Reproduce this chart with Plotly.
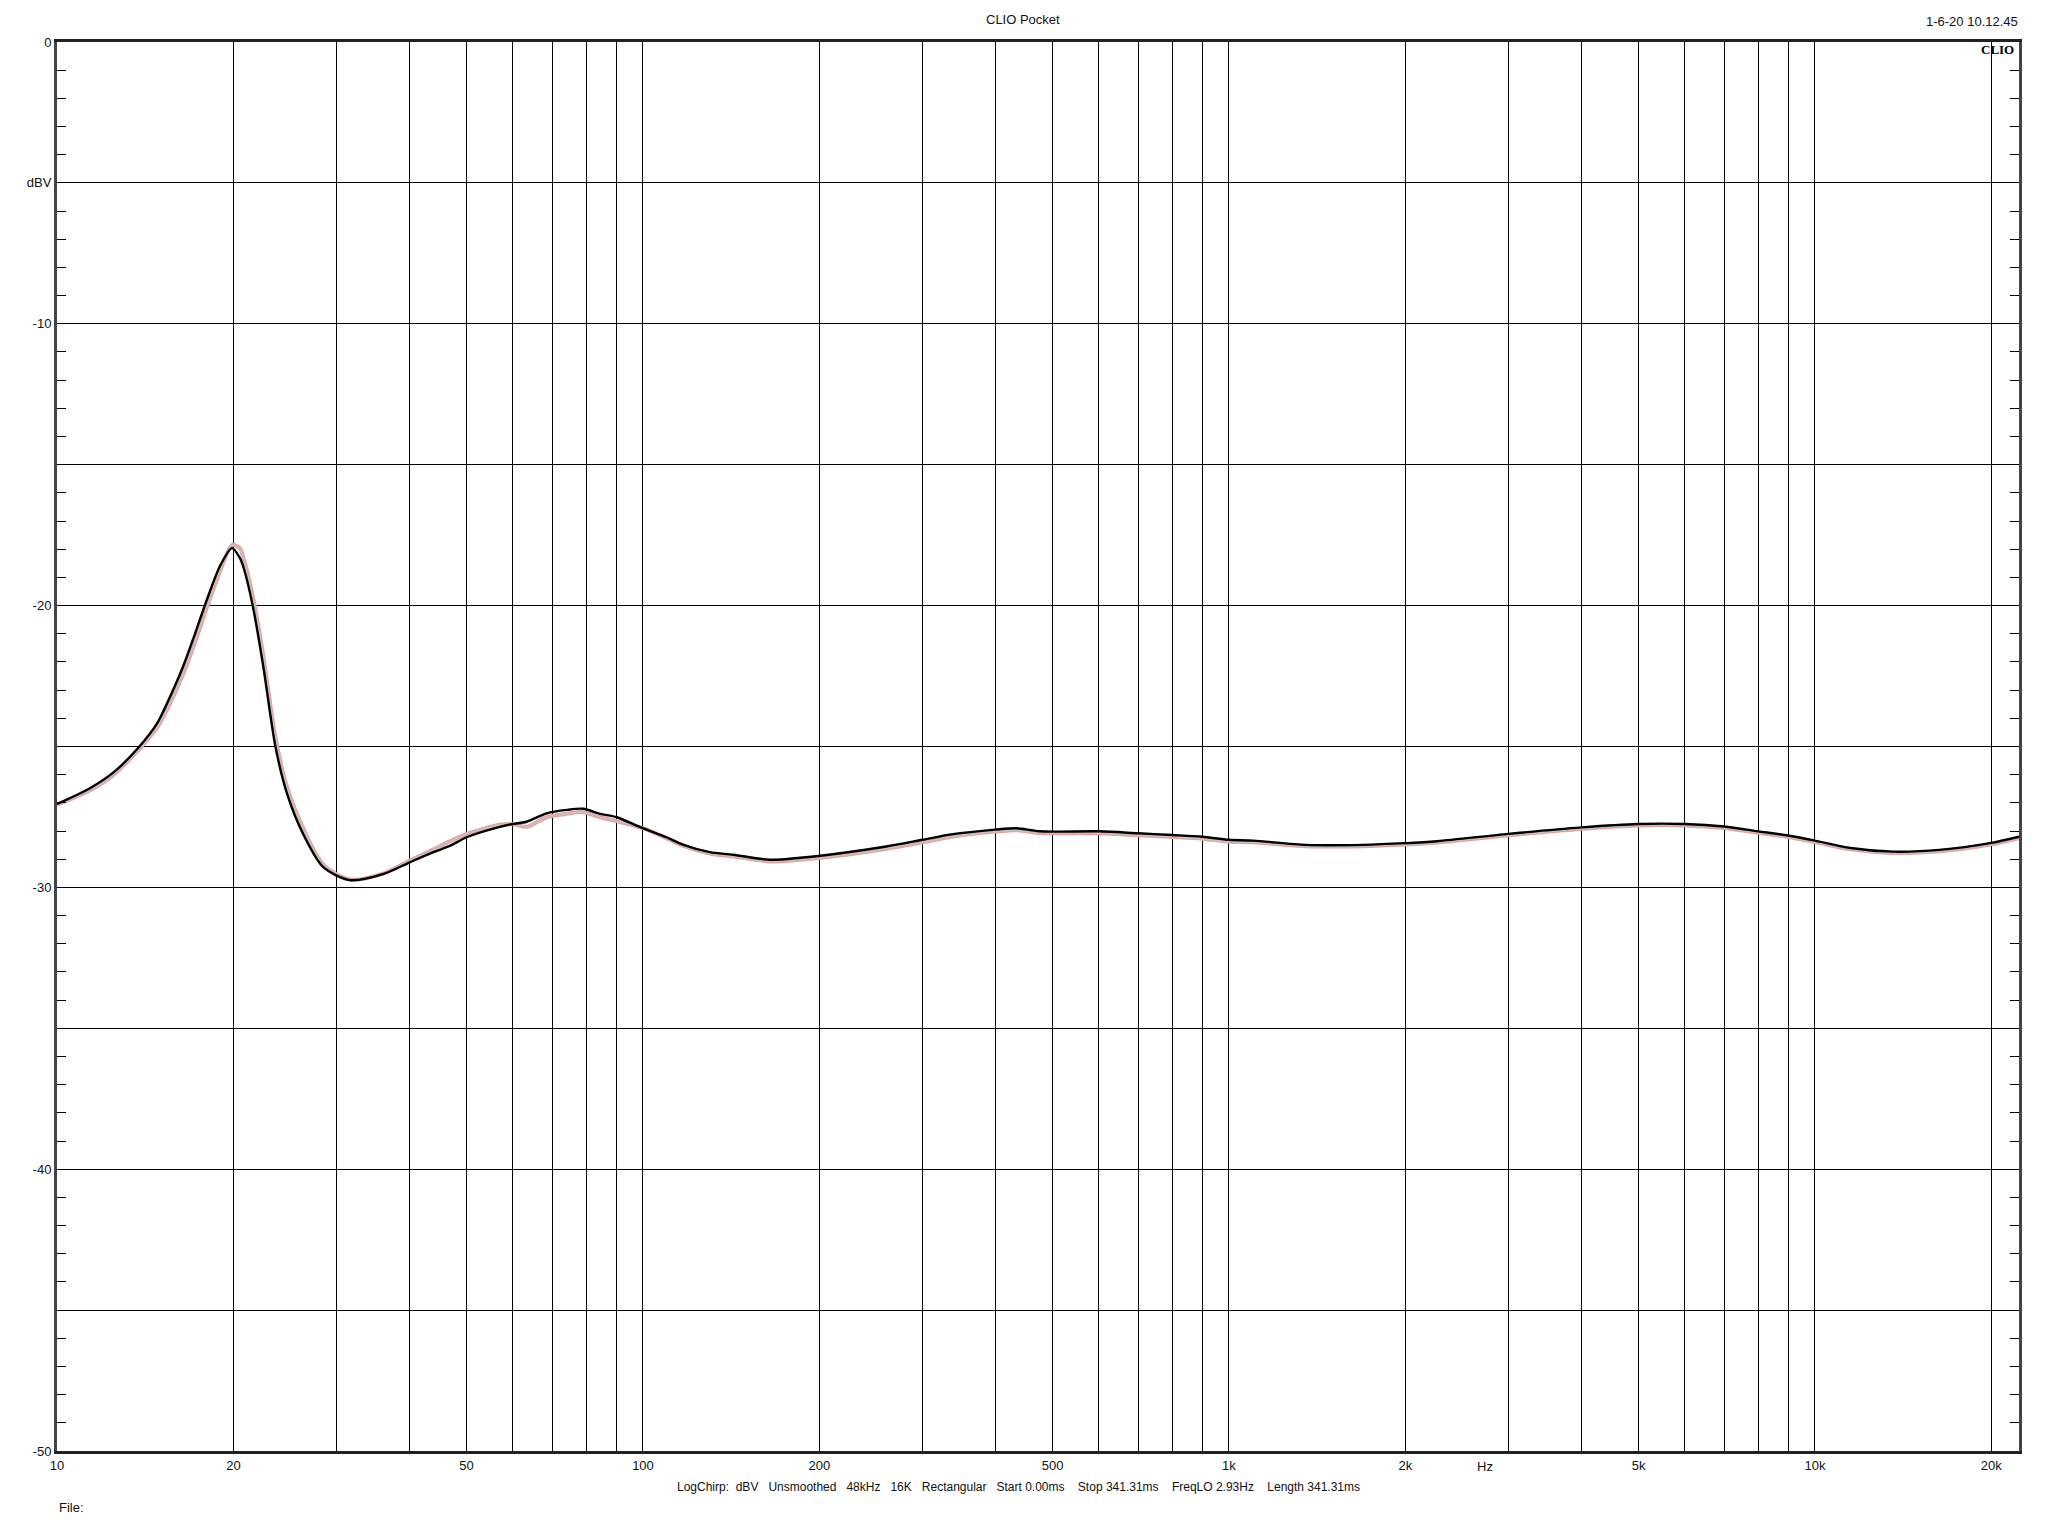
import math
import plotly.graph_objects as go

# ---- data ----
freq = [10, 11.4, 12.5, 13.8, 14.8, 15.4, 16.4, 17.2, 18.0, 19.0, 19.9, 20.5, 20.8, 21.6, 22.5,
        23.6, 24.7, 26.3, 28.5, 31.6, 36.1, 40.0, 43.9, 46.9, 50, 57, 60, 63.3, 68.5, 74.1,
        79.1, 84.5, 90.2, 99.7, 109.7, 117, 130, 142.6, 164.7, 185.4, 217, 260, 300, 336,
        399, 434, 475, 600, 700, 800, 900, 1000, 1100, 1358, 1690, 2000, 2266, 3000, 4000,
        5000, 6000, 7000, 8000, 9000, 10000, 11500, 13600, 16300, 20000, 22300]
black_db = [-27.04, -26.47, -25.91, -25.02, -24.2, -23.48, -22.18, -21.0, -19.82, -18.57, -17.96,
            -18.3, -18.63, -20.05, -22.18, -25.02, -26.68, -28.1, -29.29, -29.74, -29.52, -29.11,
            -28.75, -28.52, -28.22, -27.85, -27.75, -27.67, -27.37, -27.25, -27.21, -27.39, -27.51,
            -27.89, -28.22, -28.48, -28.75, -28.84, -29.02, -28.95, -28.79, -28.55, -28.31, -28.12,
            -27.95, -27.9, -28.01, -28.01, -28.08, -28.14, -28.2, -28.31, -28.34, -28.49, -28.49,
            -28.43, -28.36, -28.1, -27.87, -27.75, -27.75, -27.84, -28.01, -28.16, -28.34, -28.6,
            -28.73, -28.67, -28.42, -28.2]
pink_db = [-27.06, -26.55, -26.0, -25.1, -24.35, -23.7, -22.45, -21.3, -20.1, -18.75, -17.85,
           -17.95, -18.3, -19.7, -21.8, -24.7, -26.45, -27.9, -29.2, -29.72, -29.5, -29.05,
           -28.65, -28.36, -28.1, -27.78, -27.75, -27.85, -27.51, -27.39, -27.33, -27.51, -27.65,
           -27.89, -28.25, -28.52, -28.8, -28.9, -29.08, -29.02, -28.87, -28.63, -28.4, -28.2,
           -28.02, -27.97, -28.07, -28.08, -28.15, -28.21, -28.27, -28.38, -28.4, -28.54, -28.54,
           -28.48, -28.41, -28.15, -27.92, -27.8, -27.8, -27.89, -28.06, -28.21, -28.39, -28.65,
           -28.78, -28.72, -28.47, -28.25]

grid_freqs = [10, 20, 30, 40, 50, 60, 70, 80, 90, 100, 200, 300, 400, 500, 600, 700, 800, 900,
              1000, 2000, 3000, 4000, 5000, 6000, 7000, 8000, 9000, 10000, 20000]
freq_labels = {10: "10", 20: "20", 50: "50", 100: "100", 200: "200", 500: "500", 1000: "1k",
               2000: "2k", 5000: "5k", 10000: "10k", 20000: "20k"}
db_ticks = [0, -5, -10, -15, -20, -25, -30, -35, -40, -45, -50]
db_labels = {0: "0", -5: "dBV", -10: "-10", -20: "-20", -30: "-30", -40: "-40", -50: "-50"}

title_text = "CLIO Pocket"
date_text = "1-6-20 10.12.45"
info_parts = ["LogChirp:  dBV", "Unsmoothed", "48kHz", "16K", "Rectangular", "Start 0.00ms",
              " Stop 341.31ms", " FreqLO 2.93Hz", " Length 341.31ms"]

NARROW = "Liberation Sans Narrow, Arial Narrow, Liberation Sans, Arial, sans-serif"
SANS = "Liberation Sans, Arial, sans-serif"

fig = go.Figure()
fig.add_trace(go.Scatter(x=freq, y=pink_db, mode="lines",
                         line=dict(color="#e2a2a2", width=4, shape="spline", smoothing=0.8),
                         hoverinfo="skip", showlegend=False))
fig.add_trace(go.Scatter(x=freq, y=pink_db, mode="lines",
                         line=dict(color="#c8c0c0", width=1.6, shape="spline", smoothing=0.8),
                         hoverinfo="skip", showlegend=False))
fig.add_trace(go.Scatter(x=freq, y=black_db, mode="lines",
                         line=dict(color="#000000", width=2.4, shape="spline", smoothing=0.8),
                         hoverinfo="skip", showlegend=False))
# invisible trace for right-side tick axis
fig.add_trace(go.Scatter(x=[freq[0]], y=[black_db[0]], yaxis="y2", mode="markers",
                         marker=dict(opacity=0), hoverinfo="skip", showlegend=False))

x_range = [1, math.log10(22300)]

ML, MR, MT, MB = 57, 29, 42, 85
W, H = 2048, 1536

fig.update_layout(
    width=W, height=H,
    margin=dict(l=ML, r=MR, t=MT, b=MB),
    paper_bgcolor="white", plot_bgcolor="white",
    xaxis=dict(type="log", range=x_range,
               tickvals=grid_freqs,
               ticktext=[freq_labels.get(f, "") for f in grid_freqs],
               showgrid=True, gridcolor="#000000", gridwidth=1,
               showline=True, linecolor="#222222", linewidth=3, mirror=True,
               ticks="", tickfont=dict(family=NARROW, size=13, color="#111111"),
               zeroline=False),
    yaxis=dict(range=[-50, 0], tickvals=db_ticks,
               ticktext=[db_labels.get(v, "") for v in db_ticks],
               showgrid=True, gridcolor="#000000", gridwidth=1,
               showline=True, linecolor="#444444", linewidth=3, mirror=True,
               ticks="inside", ticklen=9, tickcolor="#000000",
               minor=dict(dtick=1, ticks="inside", ticklen=9, tickcolor="#000000", showgrid=False),
               tickfont=dict(family=SANS, size=13, color="#111111"),
               zeroline=False),
    yaxis2=dict(range=[-50, 0], overlaying="y", side="right", tickvals=db_ticks,
                showticklabels=False, showgrid=False,
                ticks="inside", ticklen=9, tickcolor="#000000",
                minor=dict(dtick=1, ticks="inside", ticklen=9, tickcolor="#000000", showgrid=False),
                zeroline=False, showline=False),
)

annotations = [
    dict(text=title_text, x=1023, y=20,
         font=dict(family=SANS, size=13, color="#111111")),
    dict(text=date_text, x=2020, y=21, xanchor="right",
         font=dict(family=SANS, size=13, color="#111111")),
    dict(text="<b>CLIO</b>", x=2016, y=49, xanchor="right",
         font=dict(family="Liberation Serif, DejaVu Serif, serif", size=13, color="#000000")),
    dict(text="Hz", x=1495, y=1466,
         font=dict(family=NARROW, size=13, color="#111111")),
    dict(text="\u00a0\u00a0\u00a0".join(p.replace(" ", "\u00a0") for p in info_parts),
         x=1018, y=1487,
         font=dict(family=NARROW, size=12, color="#111111")),
    dict(text="File:", x=57, y=1507, xanchor="left",
         font=dict(family=NARROW, size=13, color="#111111")),
]
pw = W - ML - MR
ph = H - MT - MB
for a in annotations:
    a["xref"] = "paper"
    a["yref"] = "paper"
    a["x"] = (a["x"] - ML) / pw
    a["y"] = ((H - a["y"]) - MB) / ph
    a.setdefault("yanchor", "middle")
    a["showarrow"] = False
    fig.add_annotation(**a)

fig.write_html("out.html", config={"displayModeBar": False},
               post_script="document.body.style.margin='0';document.body.style.padding='0';")
